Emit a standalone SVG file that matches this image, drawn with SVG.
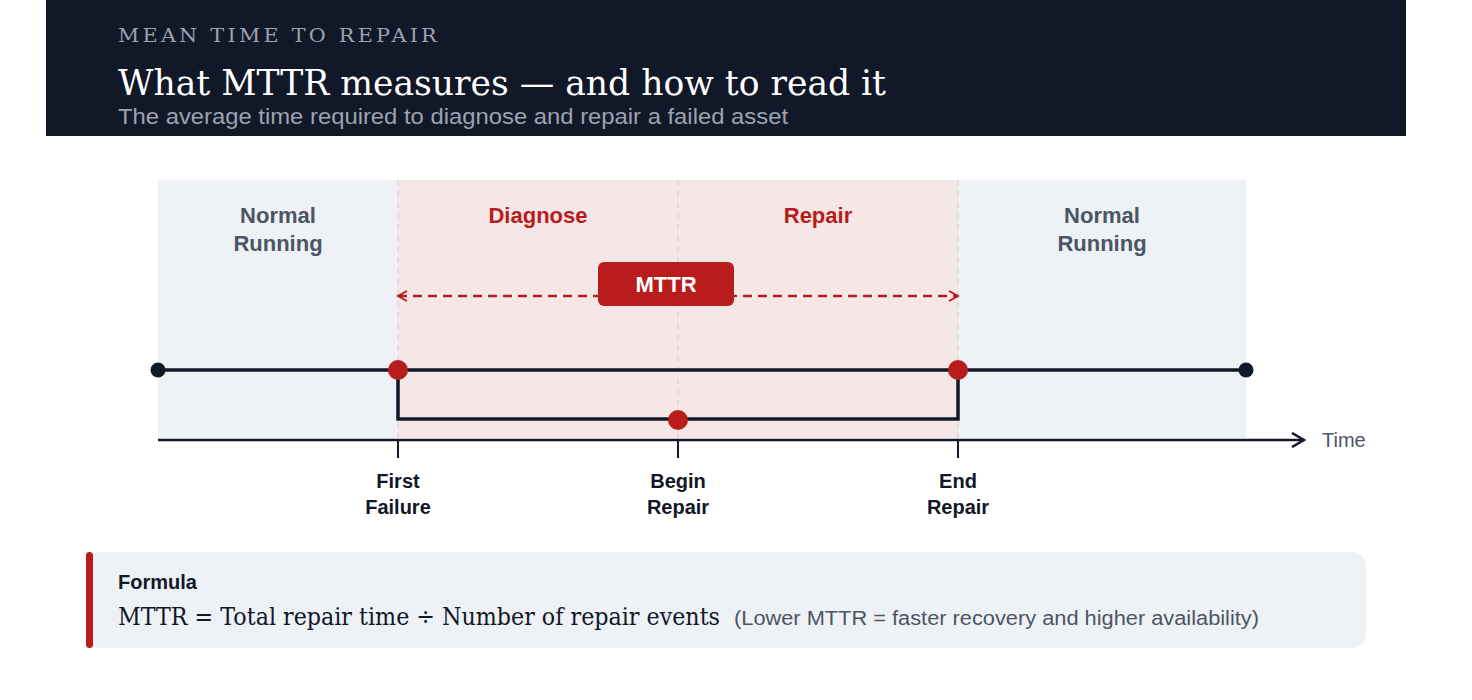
<svg xmlns="http://www.w3.org/2000/svg" width="1472" height="700" viewBox="0 0 1472 700">
<style>
.sans{font-family:"Liberation Sans",Arial,sans-serif}
.serif{font-family:"DejaVu Serif","Liberation Serif",serif}
.phase{font-family:"Liberation Sans",Arial,sans-serif;font-weight:bold;font-size:22px;text-anchor:middle}
.tick{font-family:"Liberation Sans",Arial,sans-serif;font-weight:bold;font-size:20px;text-anchor:middle;fill:#111827}
.vd{stroke:#e2d6d8;stroke-width:1.5;stroke-dasharray:6 5}
</style>
<defs>
<marker id="ar" viewBox="0 0 12 12" refX="10" refY="6" markerWidth="12" markerHeight="12" markerUnits="userSpaceOnUse" orient="auto-start-reverse"><path d="M1 1L10 6L1 11" fill="none" stroke="#b91c1c" stroke-width="2"/></marker>
<marker id="ax" viewBox="0 0 16 16" refX="14" refY="8" markerWidth="16" markerHeight="16" markerUnits="userSpaceOnUse" orient="auto"><path d="M2 1L14 8L2 15" fill="none" stroke="#111827" stroke-width="2.5"/></marker>
</defs>
<g id="header">
<rect x="46" y="0" width="1360" height="136" fill="#111827"/>
<text x="118" y="42" class="serif" font-size="19" letter-spacing="3" fill="#9ca3af" textLength="322" lengthAdjust="spacingAndGlyphs">MEAN TIME TO REPAIR</text>
<text x="118" y="95" class="serif" font-size="36" fill="#ffffff" textLength="768" lengthAdjust="spacingAndGlyphs">What MTTR measures — and how to read it</text>
<text x="118" y="124" class="sans" font-size="22" fill="#9ca3af" textLength="670" lengthAdjust="spacingAndGlyphs">The average time required to diagnose and repair a failed asset</text>
</g>
<g id="phases">
<rect x="158" y="180" width="240" height="258" fill="#eef1f6"/>
<rect x="398" y="180" width="560" height="258" fill="#f6e7e7"/>
<rect x="958" y="180" width="288" height="258" fill="#eef1f6"/>
<line x1="398" y1="180" x2="398" y2="438" class="vd"/>
<line x1="678" y1="180" x2="678" y2="438" class="vd"/>
<line x1="958" y1="180" x2="958" y2="438" class="vd"/>
<text x="278" y="223" class="phase" fill="#4b5563">Normal</text>
<text x="278" y="251" class="phase" fill="#4b5563">Running</text>
<text x="538" y="223" class="phase" fill="#b91c1c">Diagnose</text>
<text x="818" y="223" class="phase" fill="#b91c1c">Repair</text>
<text x="1102" y="223" class="phase" fill="#4b5563">Normal</text>
<text x="1102" y="251" class="phase" fill="#4b5563">Running</text>
</g>
<g id="connectors">
<line x1="398" y1="296" x2="958" y2="296" stroke="#b91c1c" stroke-width="2.5" stroke-dasharray="9 6" marker-start="url(#ar)" marker-end="url(#ar)"/>
<line x1="158" y1="370" x2="1246" y2="370" stroke="#111827" stroke-width="3.5"/>
<polyline points="398,370 398,419 958,419 958,370" fill="none" stroke="#111827" stroke-width="3.5"/>
<line x1="158" y1="440" x2="1304" y2="440" stroke="#111827" stroke-width="2.5" marker-end="url(#ax)"/>
<line x1="398" y1="440" x2="398" y2="458" stroke="#111827" stroke-width="2"/>
<line x1="678" y1="440" x2="678" y2="458" stroke="#111827" stroke-width="2"/>
<line x1="958" y1="440" x2="958" y2="458" stroke="#111827" stroke-width="2"/>
</g>
<g id="mttr-badge">
<rect x="598" y="262" width="136" height="44" rx="6" fill="#b91c1c"/>
<text x="666" y="292" class="sans" font-size="22" font-weight="bold" fill="#fff" text-anchor="middle">MTTR</text>
</g>
<g id="points">
<circle cx="158" cy="370" r="7.5" fill="#111827"/>
<circle cx="1246" cy="370" r="7.5" fill="#111827"/>
<circle cx="398" cy="370" r="10" fill="#b91c1c"/>
<circle cx="958" cy="370" r="10" fill="#b91c1c"/>
<circle cx="678" cy="420" r="10" fill="#b91c1c"/>
</g>
<g id="labels">
<text x="1322" y="447" class="sans" font-size="20" fill="#4b5563">Time</text>
<text x="398" y="488" class="tick">First</text><text x="398" y="514" class="tick">Failure</text>
<text x="678" y="488" class="tick">Begin</text><text x="678" y="514" class="tick">Repair</text>
<text x="958" y="488" class="tick">End</text><text x="958" y="514" class="tick">Repair</text>
</g>
<g id="formula">
<rect x="86" y="552" width="1280" height="96" rx="14" fill="#eef1f6"/>
<rect x="86" y="552" width="7" height="96" rx="3.5" fill="#b91c1c"/>
<text x="118" y="589" class="sans" font-size="20" font-weight="bold" fill="#111827">Formula</text>
<text x="118" y="625" class="serif" font-size="24" fill="#111827" textLength="602" lengthAdjust="spacingAndGlyphs">MTTR = Total repair time ÷ Number of repair events</text>
<text x="734" y="625" class="sans" font-size="20" fill="#4b5563" textLength="525" lengthAdjust="spacingAndGlyphs">(Lower MTTR = faster recovery and higher availability)</text>
</g>
</svg>
